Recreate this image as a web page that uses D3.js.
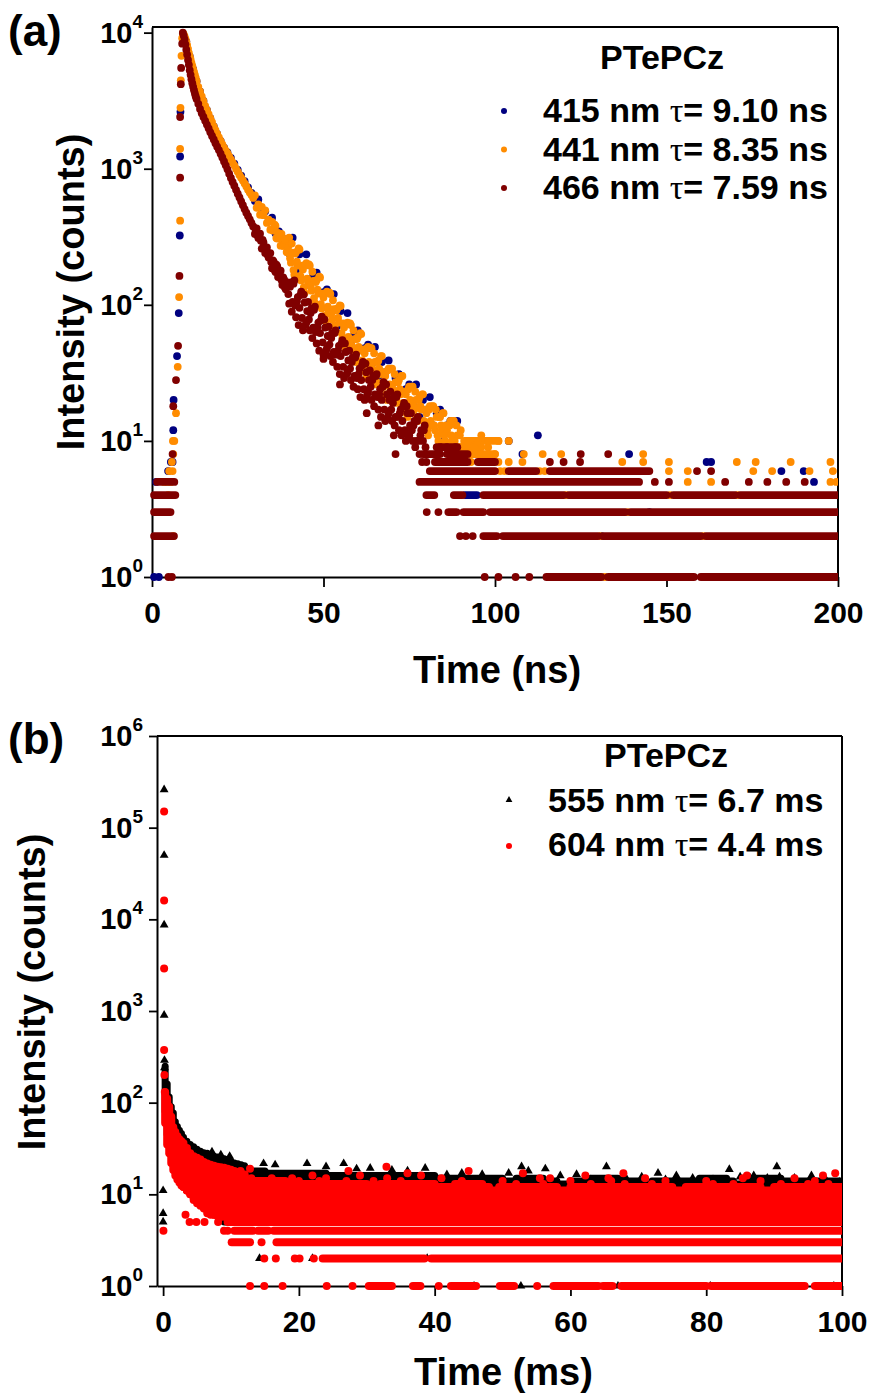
<!DOCTYPE html>
<html><head><meta charset="utf-8">
<script src="https://cdn.jsdelivr.net/npm/d3@7"></script>
<style>
body{margin:0;background:#fff}
svg{display:block}
text{font-family:"Liberation Sans",Arial,sans-serif;font-weight:bold;fill:#000}
</style>
</head><body>
<svg id="chart" width="874" height="1399"></svg>
<script>
// ---------------- Panel (a) data : time (ns), intensity (counts) ----------------
const seriesA = ["415 nm", "441 nm", "466 nm"];
const tauA = ["9.10 ns", "8.35 ns", "7.59 ns"];
const xTicksA = [0, 50, 100, 150, 200];
const xMinorA = [25, 75, 125, 175];
const yDecadesA = [1, 10, 100, 1000, 10000];

const rise415 = [[6.0,7],[6.2,12],[6.3,20],[7.3,42],[7.8,87],[8.1,323],[8.2,1230],[8.3,2620]];
const rise441 = [[6.5,10],[7.0,16],[7.5,35],[7.9,114],[8.2,415],[8.2,1400],[8.3,2800],[8.4,4460],[8.6,6760],[8.8,9100]];
const rise466 = [[6.0,8],[6.2,18],[7.0,28],[7.6,50],[8.0,163],[8.2,860],[8.2,2400],[8.4,4180],[8.5,5500],[8.8,8300]];

const decay415 = [[9,9800],[10,8600],[11,6700],[12,5400],[13,4400],[14,3700],[15,3150],[16,2700],[17,2350],[18,2050],[19,1800],[20,1600],[21,1430],[22,1320],[23,1200],[24,1090],[25,980],[26,890],[27,810],[28,730],[29,665],
[30,580],[31,594],[32,466],[33,486],[34,418],[35,437],[36,335],[37,347],[38,305],[39,302],[40,238],[41,311],[42,180],[43,235],[44,191],[45,235],[46,140],[47,164],[48,172],[49,98],[50,124],[51,130],[52,91],[53,120],[54,70],[55,90],[56,71],[57,87],[58,51],[59,61],[60,65],[61,38],[62,48],[63,51],[64,36],[65,49],[66,29],[67,38],[68,32],[69,39],[70,24],[71,29],[72,31],[73,18],[74,24],[75,26],[76,19],[77,26],[78,15],[79,20],[80,17],[81,21],[82,13],[83,16],[84,17],[85,10],[86,13],[87,14],[88,10],[89,14],[90,8]];

const decay441 = [[9,9900],[9.25,9700],[9.5,9400],[9.75,9000],[10,8600],[10.25,8100],[10.5,7600],[10.75,7100],[11,6700],[11.25,6350],[11.5,6000],[11.75,5700],[12,5400],[12.25,5150],[12.5,4900],[12.75,4650],[13,4400],[13.5,4000],[14,3700],[14.5,3400],[15,3150],[15.5,2900],[16,2700],[16.5,2520],[17,2350],[17.5,2200],[18,2050],[18.5,1920],[19,1800],[19.5,1700],[20,1600],[20.5,1510],[21,1430],[21.5,1360],[22,1300],[22.5,1230],[23,1170],[23.5,1110],[24,1060],[24.5,1000],[25,950],[25.5,900],[26,860],[26.5,820],[27,780],[27.5,740],[28,700],[28.5,670],[29,640],[29.5,610],
[30,638],[30.5,516],[31,546],[31.5,459],[32,524],[32.5,456],[33,495],[33.5,400],[34,422],[34.5,356],[35,407],[35.5,351],[36,380],[36.5,307],[37,324],[37.5,272],[38,310],[38.5,272],[39,297],[39.5,242],
[40,312],[40.5,204],[41,242],[41.5,166],[42,244],[42.5,194],[43,255],[43.5,151],[44,182],[44.5,122],[45,202],[45.5,145],[46,194],[46.5,127],[47,150],[47.5,103],[48,152],[48.5,121],[49,159],[49.5,94],
[50,113],[50.5,76],[51,125],[51.5,90],[52,120],[52.5,78],[53,93],[53.5,64],[54,94],[54.5,74],[55,98],[55.5,57],[56,68],[56.5,46],[57,74],[57.5,54],[58,71],[58.5,47],[59,56],[59.5,38],
[60,58],[60.5,46],[61,61],[61.5,36],[62,44],[62.5,29],[63,49],[63.5,35],[64,48],[64.5,31],[65,38],[65.5,26],[66,39],[66.5,31],[67,42],[67.5,25],[68,30],[68.5,20],[69,34],[69.5,25],
[70,34],[70.5,22],[71,27],[71.5,19],[72,28],[72.5,22],[73,30],[73.5,18],[74,22],[74.5,15],[75,25],[75.5,18],[76,25],[76.5,17],[77,20],[77.5,14],[78,21],[78.5,17],[79,22],[79.5,13],
[80,16],[80.5,11],[81,18],[81.5,13],[82,18],[82.5,12],[83,15],[83.5,10],[84,15],[84.5,12],[85,16],[85.5,10],[86,12],[86.5,8],[87,14],[87.5,10],[88,14],[88.5,9],[89,11],[89.5,8],[90,12]];
// second sweep of channels read between the points above
const decay441b = [[35.25,352],[35.75,388],[36.25,310],[36.75,338],[37.25,308],[37.75,332],[38.25,271],[38.75,302],[39.25,244],[39.75,268],
[40.25,220],[40.75,282],[41.25,180],[41.75,238],[42.25,208],[42.75,260],[43.25,163],[43.75,194],[44.25,134],[44.75,197],[45.25,156],[45.75,198],[46.25,137],[46.75,175],[47.25,112],[47.75,147],[48.25,129],[48.75,161],[49.25,101],[49.75,121],
[50.25,83],[50.75,122],[51.25,97],[51.75,123],[52.25,85],[52.75,108],[53.25,70],[53.75,91],[54.25,80],[54.75,99],[55.25,62],[55.75,73],[56.25,50],[56.75,72],[57.25,58],[57.75,73],[58.25,50],[58.75,65],[59.25,42],[59.75,56],
[60.25,49],[60.75,62],[61.25,39],[61.75,47],[62.25,32],[62.75,48],[63.25,38],[63.75,48],[64.25,34],[64.75,44],[65.25,28],[65.75,38],[66.25,34],[66.75,42],[67.25,27],[67.75,32],[68.25,22],[68.75,33],[69.25,26],[69.75,34],
[70.25,24],[70.75,31],[71.25,20],[71.75,27],[72.25,24],[72.75,30],[73.25,19],[73.75,23],[74.25,16],[74.75,24],[75.25,20],[75.75,25],[76.25,18],[76.75,23],[77.25,15],[77.75,20],[78.25,18],[78.75,22],[79.25,14],[79.75,17],
[80.25,12],[80.75,17],[81.25,14],[81.75,18],[82.25,13],[82.75,17],[83.25,11],[83.75,15],[84.25,13],[84.75,16],[85.25,11],[85.75,13],[86.25,9],[86.75,13],[87.25,11],[87.75,14],[88.25,10],[88.75,13],[89.25,8],[89.75,11]];

const decay466 = [[9,10000],[9.25,9500],[9.5,8900],[9.75,8200],[10,7500],[10.25,6900],[10.5,6300],[10.75,5800],[11,5300],[11.25,4900],[11.5,4550],[11.75,4250],[12,4000],[12.25,3780],[12.5,3570],[12.75,3400],[13,3250],[13.5,3000],[14,2750],[14.5,2560],[15,2400],[15.5,2250],[16,2110],[16.5,1980],[17,1850],[17.5,1740],[18,1640],[18.5,1540],[19,1450],[19.5,1370],[20,1290],[20.5,1210],[21,1130],[21.5,1060],[22,990],[22.5,920],[23,855],[23.5,800],[24,750],[24.5,700],[25,655],[25.5,615],[26,575],[26.5,540],[27,505],[27.5,475],[28,450],[28.5,425],[29,400],[29.5,377],
[30,332],[30.5,365],[31,310],[31.5,333],[32,259],[32.5,287],[33,240],[33.5,264],[34,223],[34.5,240],[35,186],[35.5,207],[36,174],[36.5,192],[37,165],[37.5,178],[38,140],[38.5,154],[39,130],[39.5,144],
[40,102],[40.5,146],[41,105],[41.5,151],[42,81],[42.5,114],[43,95],[43.5,125],[44,65],[44.5,104],[45,74],[45.5,105],[46,65],[46.5,94],[47,68],[47.5,97],[48,52],[48.5,74],[49,62],[49.5,82],
[50,43],[50.5,68],[51,48],[51.5,69],[52,42],[52.5,62],[53,45],[53.5,65],[54,35],[54.5,50],[55,42],[55.5,55],[56,29],[56.5,45],[57,32],[57.5,46],[58,28],[58.5,41],[59,30],[59.5,43],
[60,24],[60.5,34],[61,28],[61.5,38],[62,20],[62.5,32],[63,23],[63.5,33],[64,20],[64.5,30],[65,22],[65.5,31],[66,17],[66.5,24],[67,20],[67.5,27],[68,14],[68.5,22],[69,16],[69.5,23],
[70,14],[70.5,21],[71,15],[71.5,22],[72,12],[72.5,17],[73,14],[73.5,19],[74,10],[74.5,16],[75,11],[75.5,16],[76,10],[76.5,14],[77,10],[77.5,15],[78,8],[78.5,12],[79,10],[79.5,13],[80,7],
[50,40],[54.8,26],[62.6,16],[66,13],[70.5,11]];
const decay466b = [[30.25,350],[30.75,322],[31.25,330],[31.75,296],[32.25,300],[32.75,262],[33.25,262],[33.75,232],[34.25,238],[34.75,206],[35.25,212],[35.75,180],[36.25,197],[36.75,160],[37.25,166],[37.75,152],[38.25,159],[38.75,134],[39.25,147],[39.75,120],
[40.25,136],[40.75,89],[41.25,143],[41.75,99],[42.25,106],[42.75,71],[43.25,118],[43.75,80],[44.25,119],[44.75,71],[45.25,90],[45.75,78],[46.25,87],[46.75,57],[47.25,92],[47.75,63],[48.25,68],[48.75,46],[49.25,77],[49.75,53],
[50.25,78],[50.75,46],[51.25,59],[51.75,51],[52.25,57],[52.75,38],[53.25,62],[53.75,43],[54.25,46],[54.75,31],[55.25,52],[55.75,35],[56.25,52],[56.75,31],[57.25,39],[57.75,34],[58.25,38],[58.75,25],[59.25,41],[59.75,29],
[60.25,31],[60.75,21],[61.25,36],[61.75,24],[62.25,37],[62.75,22],[63.25,28],[63.75,25],[64.25,28],[64.75,18],[65.25,30],[65.75,21],[66.25,22],[66.75,15],[67.25,25],[67.75,17],[68.25,26],[68.75,15],[69.25,20],[69.75,17],
[70.25,19],[70.75,13],[71.25,21],[71.75,15],[72.25,16],[72.75,11],[73.25,18],[73.75,12],[74.25,18],[74.75,11],[75.25,13],[75.75,12],[76.25,13],[76.75,9],[77.25,14],[77.75,10],[78.25,11],[78.75,7],[79.25,12],[79.75,9]];

// tail of panel (a): runs of overlapping dots at an integer count level [level, tStart, tEnd]
const runs415 = [[4,91.3,94.7]];
const runs441 = [[8,88,100],[9,87,96],[10,91,101]];
const runs466 = [[1,115,131],[1,133,158],[1,160,200],[2,0.6,6.4],[2,96.6,100.5],[2,102.3,130],[2,131.5,160],[2,161.5,200],[3,0.6,5.4],[3,86.4,88.8],[3,90.8,96.6],[3,98.6,138],[3,139.5,200],[4,0.6,6.8],[4,80,82.3],[4,88,90.5],[4,96.6,120],[4,121.5,150],[4,152,170],[4,171.5,200],[5,1.5,6.5],[5,78,142],[6,81,100],[6,104,112],[6,116,145],[7,82.5,92],[7,95,100],[8,79,84],[8,86,92],[9,83,89]];
// isolated tail dots [t, level]
const dots415 = [[0.6,1],[2.0,1],[120,1],[175,1],[190,1],[131,2],[145,3],[1.2,5],[4.7,6],[5.5,7],[161.7,7],[163,7],[183.5,6],[190,6],[193,5],[139.1,8],[104,10],[112.5,11],[108,8],[95,10]];
const dots441 = [[132,1],[130.7,2],[160.7,2],[138.7,3],[120.7,4],[151,4],[170.7,4],[6.2,2],[4.7,4],[3.5,5],[4.5,5],[5.5,5],[5,6],[6,6],[5.8,7],[6.2,8],[6.1,10],[156.2,5],[163,5],[197.8,5],[199.5,5],[150.7,6],[156.2,6],[175.3,6],[180.8,6],[191.7,6],[198.5,6],[101.5,6],[102.8,6],[113,6],[114.5,6],[93,7],[101,7],[104,7],[108,7],[137.1,7],[143.2,7],[150.7,7],[170.5,7],[176,7],[186.2,7],[197.8,7],[96,8],[100,8],[108.4,8],[113.9,8],[119.3,8],[143.2,8],[85,9],[90,9],[94,9],[98,9],[92,10],[95,10],[98,10],[101,10],[104,10],[96,11]];
const dots466 = [[4.8,1],[5.8,1],[97,1],[101,1],[106,1],[110,1],[89.8,2],[91.5,2],[93.5,2],[80.1,3],[83.5,3],[146.6,5],[150.7,5],[167.1,5],[174,5],[179.4,5],[184.9,5],[190.3,5],[158.9,6],[163,6],[116,7],[120,7],[124.8,7],[71,8],[125,8],[133,8],[84,9],[86,9],[88.5,9]];

// ---------------- Panel (b) data : time (ms), intensity (counts) ----------------
const seriesB = ["555 nm", "604 nm"];
const tauB = ["6.7 ms", "4.4 ms"];
const xTicksB = [0, 20, 40, 60, 80, 100];
const xMinorB = [10, 30, 50, 70, 90];
const yDecadesB = [1, 10, 100, 1000, 10000, 100000, 1000000];

const spike555 = [[0.15,260000],[0.15,50000],[0.15,8700],[0.15,900],[0.2,290],[0.2,240],[0.0,11],[0.0,6.2],[0.0,5]];
const spike604 = [[0.15,150000],[0.15,16000],[0.15,2900],[0.15,375],[0.2,200],[0.25,131],[0.05,4]];
// vertical runs of overlapping points in the early decay [t, low, high]
const vrun555 = [[0.3,80,250],[0.6,45,160],[0.9,35,115],[1.2,28,90],[1.5,22,77],[1.8,20,62],[2.1,18,55],[2.4,17,50],[2.7,16,46],[3.0,15,42],[3.5,14,38],[4.0,13,35],[4.5,12,33],[5.0,11,31],[5.5,10,29.5],[6.0,10,28.5],[6.5,9,28],[7.0,9,27],[7.5,9,26],[8.0,8,25.5],[8.5,8,25],[9.0,8,24.5],[9.5,8,24],[10,8,23],[10.5,8,22],[11,8,21.5],[11.5,8,21],[12,8,20.5]];
const vrun604 = [[0.3,60,130],[0.6,35,110],[0.9,28,90],[1.2,22,70],[1.5,18.4,54],[1.8,16,48],[2.1,14.5,43],[2.4,13.5,40],[2.7,12.5,38],[3.0,12,36],[3.5,11,32],[4.0,10,28],[4.5,8.7,26],[5.0,8,25],[5.5,7.5,24],[6.0,7,22.5],[6.5,6.2,21.7],[7.0,6,21],[7.5,6,20.5],[8.0,5.8,20],[8.5,5.7,19.7],[9.0,5.7,19.5],[9.5,5.5,19],[10,5.5,18.5],[10.5,5.3,18],[11,5.2,17.5],[11.5,5.2,17],[12,5.1,16.5]];
// horizontal runs at integer count levels [level, tStart, tEnd]
const hrun555 = [[5,9,100],[6,8,100],[7,7,100],[8,6,100],[9,5,100],[10,5,100],[11,5,100],[12,5,100],[13,9,100],[14,10,48],[14,50,58],[14,60,70],[14,72,84],[14,86,100],[15,10,50],[15,52,56],[15,63,67],[15,79,83],[15,87,91],[16,10,40],[17,9,24],[18,9,15]];
const hrun604 = [[1,30.3,33.7],[1,36.8,37.9],[1,42.4,46.1],[1,49.6,51.7],[1,57.5,64.1],[1,64.8,66.2],[1,67.5,80],[1,80.7,94.5],[1,96,100],[2,23.5,38.5],[2,39.5,100],[3,10.1,12.8],[3,16.7,100],[4,10.5,13.2],[4,14,15.5],[4,16.3,100],[5,9.5,100],[6,7.5,100],[7,6.5,100],[8,5.5,100],[9,5,100],[10,4,100],[11,3.5,100],[12,3,48],[12,49.5,58],[12,60,75],[12,77,88],[12,90,100],[13,2.8,30],[13,32,40],[13,43,47],[14,2.5,18]];
// isolated points [t, counts]
const dots555 = [[45.8,1],[52.7,1],[67,1],[80.6,1],[98.8,1],[14.2,2],[22,2],[38.9,2],[7.2,29],[8.5,27],[9.8,26],[14.8,21.7],[16.5,21],[21.2,21.7],[24,20],[26.6,21.7],[28.5,19],[30.5,19.3],[33.7,18.4],[36,18],[38.6,19.3],[41.8,16.4],[44,17],[47,16.5],[50.9,17],[52.8,20],[53.8,18],[56.3,19],[58.5,16],[60.9,16.5],[63,14.5],[65.3,20],[68,16],[70.5,15.5],[72.9,17],[74,14.5],[75.6,16],[78,15],[81,14.5],[83.4,18.7],[85,15.5],[86.5,15],[87,16],[89,15],[90.4,20],[90.8,15.5],[93,15],[95.5,16],[97.5,15],[99.6,13.6]];
const dots604 = [[12.8,1],[14.9,1],[17.6,1],[24.1,1],[27.9,1],[40.6,1],[55.1,1],[14.9,2],[16.6,2],[19.4,2],[20.1,2],[22.2,2],[14.5,3],[8.97,4],[9.5,4],[3.9,5],[4.9,5],[6.1,5],[8.1,5],[3.3,6],
[52,13],[56,13],[63,13],[68,13],[72,13],[81,13],[84,13],[91,13],[95,13],[98,13],
[20,14],[23,14],[27,14],[31,14],[35,14],[44,14],[50,14],[60,14],[66,14],[74,14],[80,14],[88,14],[96,14],
[11,15],[13,15],[16,15],[19,15],[24,15],[33,15],[41,15],[55.5,15],[57,15],[65.6,15],[71,15],[85.4,15],[93,15],
[9.8,16],[12,16],[22,16],[29,16],[38,16],[62.2,16],[86,16],[97.2,16],[10.8,17],[36,17],[53,17],[67.8,17],[99,17],[11.4,18],[27.3,18],[45,18],[12.8,19],[32.9,20]];

// ---------------- drawing ----------------
const svg = d3.select("#chart");
const C = {navy:"#000080", orange:"#ff8c00", maroon:"#800000", red:"#ff0000", black:"#000000"};
const minorMult = [2,3,4,5,6,7,8,9];
const FONT = "'Liberation Sans',Arial,sans-serif";

function dots(g, data, x, y, color, r){
  g.append("g").selectAll("circle").data(data).join("circle")
    .attr("cx", d => x(d[0])).attr("cy", d => y(d[1])).attr("r", r).attr("fill", color);
}
function hruns(g, data, x, y, color, w){
  g.append("g").selectAll("line").data(data).join("line")
    .attr("x1", d => x(d[1])).attr("x2", d => x(d[2]))
    .attr("y1", d => y(d[0])).attr("y2", d => y(d[0]))
    .attr("stroke", color).attr("stroke-width", w).attr("stroke-linecap", "round");
}
function vruns(g, data, x, y, color, w){
  g.append("g").selectAll("line").data(data).join("line")
    .attr("x1", d => x(d[0])).attr("x2", d => x(d[0]))
    .attr("y1", d => y(d[1])).attr("y2", d => y(d[2]))
    .attr("stroke", color).attr("stroke-width", w).attr("stroke-linecap", "round");
}
function tris(g, data, x, y, color, size){
  const sym = d3.symbol().type(d3.symbolTriangle).size(size);
  g.append("g").selectAll("path").data(data).join("path")
    .attr("d", sym).attr("transform", d => `translate(${x(d[0])},${y(d[1])})`).attr("fill", color);
}

function axes(x, y, decades, majors, minors, L, R, T, B, clipId){
  const gx = svg.append("g").attr("transform", `translate(0,${B})`);
  gx.call(d3.axisBottom(x).tickValues(minors).tickSize(5).tickSizeOuter(0).tickFormat(""));
  gx.call(d3.axisBottom(x).tickValues(majors).tickSize(10).tickSizeOuter(0).tickPadding(15).tickFormat(d3.format("d")));
  gx.selectAll("text").attr("font-size", 30).attr("font-family", FONT).attr("font-weight", "bold");
  const minorY = [];
  decades.forEach((d, i) => { if (i < decades.length - 1) minorMult.forEach(m => minorY.push(d * m)); });
  const gy = svg.append("g").attr("transform", `translate(${L},0)`);
  gy.call(d3.axisLeft(y).tickValues(minorY).tickSize(4).tickSizeOuter(0).tickFormat(""));
  gy.call(d3.axisLeft(y).tickValues(decades).tickSize(8).tickSizeOuter(0).tickFormat(""));
  svg.selectAll(".domain").attr("stroke-width", 2);
  svg.selectAll(".tick line").attr("stroke-width", 1.8);
  decades.forEach(d => {
    const t = svg.append("text").attr("x", 143).attr("y", y(d) + 10).attr("text-anchor", "end").attr("font-size", 29);
    t.append("tspan").text("10");
    t.append("tspan").attr("font-size", 19).attr("dy", -15).text(Math.round(Math.log10(d)));
  });
  svg.append("line").attr("x1", L).attr("x2", R).attr("y1", T).attr("y2", T).attr("stroke", "#000").attr("stroke-width", 2);
  svg.append("line").attr("x1", R).attr("x2", R).attr("y1", T).attr("y2", B).attr("stroke", "#000").attr("stroke-width", 2);
  svg.append("clipPath").attr("id", clipId).append("rect").attr("x", L - 15).attr("y", T - 15).attr("width", R - L + 15).attr("height", B - T + 25);
}

function legendRow(lg, x, y, label, tau){
  const t = lg.append("text").attr("x", x).attr("y", y).attr("font-size", 34);
  t.append("tspan").text(label + " ");
  t.append("tspan").attr("font-family", "'Liberation Serif','Times New Roman',serif").attr("font-weight", "normal").text("τ");
  t.append("tspan").text("= " + tau);
}

// ---- Panel (a)
{
  const L = 152, R = 838, T = 27, B = 577;
  const x = d3.scaleLinear().domain([0, 200]).range([L, R]);
  const y = d3.scaleLog().domain([1, 11000]).range([B, T]);
  axes(x, y, yDecadesA, xTicksA, xMinorA, L, R, T, B, "clipA");
  const g = svg.append("g").attr("clip-path", "url(#clipA)");
  const r = 3.9, w = 7.8;
  // 415 nm
  dots(g, decay415, x, y, C.navy, r); dots(g, rise415, x, y, C.navy, r);
  hruns(g, runs415, x, y, C.navy, w); dots(g, dots415, x, y, C.navy, r);
  // 441 nm
  dots(g, decay441, x, y, C.orange, r); dots(g, decay441b, x, y, C.orange, r); dots(g, rise441, x, y, C.orange, r);
  hruns(g, runs441, x, y, C.orange, w); dots(g, dots441, x, y, C.orange, r);
  // 466 nm
  dots(g, decay466, x, y, C.maroon, r); dots(g, decay466b, x, y, C.maroon, r); dots(g, rise466, x, y, C.maroon, r);
  hruns(g, runs466, x, y, C.maroon, w); dots(g, dots466, x, y, C.maroon, r);

  svg.append("text").attr("x", 8).attr("y", 46).attr("font-size", 44).text("(a)");
  svg.append("text").attr("x", (L + R) / 2 + 2).attr("y", 683).attr("text-anchor", "middle").attr("font-size", 38).text("Time (ns)");
  svg.append("text").attr("transform", `translate(84,292) rotate(-90)`).attr("text-anchor", "middle").attr("font-size", 38).text("Intensity (counts)");

  const lg = svg.append("g");
  lg.append("text").attr("x", 662).attr("y", 69).attr("text-anchor", "middle").attr("font-size", 34).text("PTePCz");
  const cols = [C.navy, C.orange, C.maroon];
  seriesA.forEach((s, i) => {
    const by = 122 + i * 38.5;
    lg.append("circle").attr("cx", 504).attr("cy", by - 11).attr("r", 3).attr("fill", cols[i]);
    legendRow(lg, 543, by, s, tauA[i]);
  });
}

// ---- Panel (b)
{
  const L = 157, R = 842, T = 736, B = 1286;
  const x = d3.scaleLinear().domain([-0.9, 100]).range([L, R]);
  const y = d3.scaleLog().domain([1, 1e6]).range([B, T]);
  axes(x, y, yDecadesB, xTicksB, xMinorB, L, R, T, B, "clipB");
  const g = svg.append("g").attr("clip-path", "url(#clipB)");
  // 555 nm (black triangles)
  vruns(g, vrun555, x, y, C.black, 7);
  hruns(g, hrun555, x, y, C.black, 7);
  tris(g, spike555, x, y, C.black, 34);
  tris(g, dots555, x, y, C.black, 34);
  // 604 nm (red circles)
  vruns(g, vrun604, x, y, C.red, 8);
  hruns(g, hrun604, x, y, C.red, 8);
  dots(g, spike604, x, y, C.red, 4);
  dots(g, dots604, x, y, C.red, 4);

  svg.append("text").attr("x", 8).attr("y", 754).attr("font-size", 44).text("(b)");
  svg.append("text").attr("x", (L + R) / 2 + 4).attr("y", 1385).attr("text-anchor", "middle").attr("font-size", 38).text("Time (ms)");
  svg.append("text").attr("transform", `translate(45,992) rotate(-90)`).attr("text-anchor", "middle").attr("font-size", 38).text("Intensity (counts)");

  const lg = svg.append("g");
  lg.append("text").attr("x", 666).attr("y", 767).attr("text-anchor", "middle").attr("font-size", 34).text("PTePCz");
  seriesB.forEach((s, i) => {
    const by = 812 + i * 44;
    if (i === 0) lg.append("path").attr("d", d3.symbol().type(d3.symbolTriangle).size(20)()).attr("transform", `translate(509,${by - 12})`).attr("fill", C.black);
    else lg.append("circle").attr("cx", 509).attr("cy", by - 10).attr("r", 3).attr("fill", C.red);
    legendRow(lg, 548, by, s, tauB[i]);
  });
}
</script>
</body></html>
